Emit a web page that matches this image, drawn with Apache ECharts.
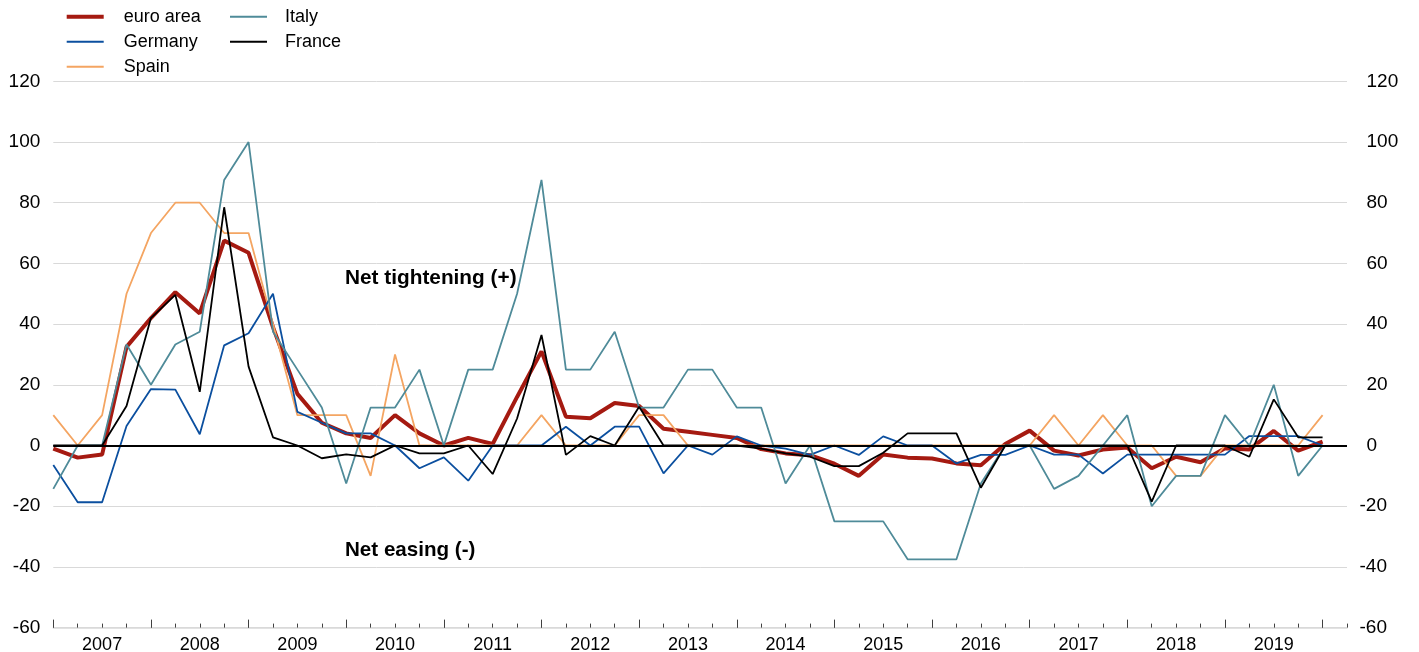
<!DOCTYPE html>
<html>
<head>
<meta charset="utf-8">
<script src="https://cdn.jsdelivr.net/npm/echarts@6/dist/echarts.min.js"></script>
<style>
  html, body { margin: 0; padding: 0; background: #ffffff; }
  #chart { width: 1419px; height: 652px; }
</style>
</head>
<body>
<div id="chart"></div>
<script>
// Quarterly periods 2007Q1 .. 2020Q1 carry data; the axis runs one quarter further.
const years = [2007, 2008, 2009, 2010, 2011, 2012, 2013, 2014, 2015, 2016, 2017, 2018, 2019, 2020];
const quarterNames = ['Q1', 'Q2', 'Q3', 'Q4'];

// Net percentages of banks (tightening > 0, easing < 0)
const euroArea = [-1, -4, -3, 32.5, 42, 50.5, 43.5, 67.5, 63.5, 39, 17, 7.5, 4, 2.5,
  10, 4, 0, 2.5, 0.5, 16, 31, 9.5, 9, 14, 13, 5.5, 4.5,
  3.5, 2.5, -1.2, -2.6, -3.2, -6, -10, -3, -4, -4.3, -5.9, -6.5, 0.5,
  4.9, -1.7, -3.3, -1.3, -0.7, -7.5, -3.7, -5.5, -0.9, -1.3, 4.8, -1.7, 1.3];
const germany = [-6.4, -18.7, -18.7, 6.4, 18.6, 18.4, 3.7, 33, 37, 50, 11.1, 7.5, 4, 4,
  0, -7.5, -3.9, -11.6, 0, 0, 0, 6.2, 0, 6.2, 6.2, -9.2, 0,
  -3, 3, 0, -1, -3.1, 0, -3.1, 3, 0, 0, -5.9, -3.1, -3.1,
  0, -3, -3, -9.2, -3, -3, -3, -3, -3, 3.1, 3.1, 3.1, 0];
const spain = [10, 0, 10, 50, 70, 80, 80, 70, 70, 40, 10, 10, 10, -10,
  30, 0, 0, 0, 0, 0, 10, 0, 0, 0, 10, 10, 0,
  0, 0, 0, 0, 0, 0, 0, 0, 0, 0, 0, 0, 0,
  0, 10, 0, 10, 0, 0, -10, -10, 0, 0, 0, 0, 10];
const italy = [-14.3, 0, 0, 33.3, 20, 33.3, 37.5, 87.5, 100, 37.5, 25, 12.5, -12.5, 12.5,
  12.5, 25, 0, 25, 25, 50, 87.5, 25, 25, 37.5, 12.5, 12.5, 25,
  25, 12.5, 12.5, -12.5, 0, -25, -25, -25, -37.5, -37.5, -37.5, -12.5, 0,
  0, -14.3, -10, 0, 10, -20, -10, -10, 10, 0, 20, -10, 0];
const france = [0, 0, 0, 13, 42, 49.6, 17.7, 78.5, 26, 2.7, 0, -4.2, -2.9, -3.9,
  0, -2.6, -2.6, 0, -9.4, 8.9, 36.4, -3.1, 3.1, 0, 12.8, 0, 0,
  0, 0, -1, -2.6, -3.7, -6.8, -6.8, -2.4, 4, 4, 4, -13.9, 0,
  0, 0, 0, 0, 0, -18.5, 0, 0, 0, -3.7, 15.2, 2.7, 2.7];

// Value axis ticks
const yMin = -60, yMax = 120, yStep = 20;

const quarters = [];
years.forEach(y => quarterNames.forEach(q => quarters.push(y + q)));
quarters.length = euroArea.length + 1; // one empty quarter closes the axis

const FONT = '"Liberation Sans", Arial, Helvetica, sans-serif';
const colors = {
  euro: '#a51a11',
  germany: '#0b4f9f',
  spain: '#f4a562',
  italy: '#4f8b99',
  france: '#000000'
};

function legendFor(name, left, top, h, gap) {
  return {
    data: [name],
    left: left,
    top: top,
    padding: 0,
    icon: 'rect',
    itemWidth: 37,
    itemHeight: h,
    itemStyle: { borderWidth: 0 },
    selectedMode: false,
    textStyle: { fontFamily: FONT, fontSize: 18, color: '#000', lineHeight: 20, padding: [0, 0, 0, gap] }
  };
}

function lineSeries(name, data, color, width) {
  return {
    name: name,
    type: 'line',
    data: data,
    xAxisIndex: 0,
    yAxisIndex: 0,
    symbol: 'none',
    showSymbol: false,
    color: color,
    lineStyle: { color: color, width: width },
    emphasis: { disabled: true },
    z: 2
  };
}

const chart = echarts.init(document.getElementById('chart'), null, { renderer: 'canvas' });

const france$ = lineSeries('France', france, colors.france, 1.8);
france$.markLine = {
  silent: true,
  symbol: 'none',
  label: { show: false },
  lineStyle: { color: '#000', width: 1.8, type: 'solid' },
  emphasis: { disabled: true },
  data: [{ yAxis: 0 }]
};

chart.setOption({
  animation: false,
  backgroundColor: '#ffffff',
  textStyle: { fontFamily: FONT },
  grid: {
    left: 53.3, right: 72, top: 81.3, bottom: 24.4,
    containLabel: false,
    outerBoundsMode: 'none'
  },
  legend: [
    legendFor('euro area', 66.7, 6.7, 4, 15),
    legendFor('Germany', 66.7, 31.7, 2, 15),
    legendFor('Spain', 66.7, 56.7, 2, 15),
    legendFor('Italy', 230, 6.7, 2, 13),
    legendFor('France', 230, 31.7, 2, 13)
  ],
  xAxis: [
    {
      type: 'category',
      data: quarters,
      boundaryGap: false,
      position: 'bottom',
      axisLine: { show: true, onZero: false, lineStyle: { color: '#d9d9d9', width: 1.5 } },
      axisTick: { show: true, inside: true, length: 4, interval: 0, lineStyle: { color: '#404040', width: 1 } },
      axisLabel: {
        show: true,
        interval: (i) => i % 4 === 2,
        formatter: (v) => v.slice(0, 4),
        fontFamily: FONT, fontSize: 18, color: '#000', margin: 8
      },
      splitLine: { show: false }
    },
    {
      type: 'category',
      data: quarters,
      boundaryGap: false,
      position: 'bottom',
      axisLine: { show: false, onZero: false },
      axisTick: { show: true, inside: true, length: 8, interval: (i) => i % 4 === 0, lineStyle: { color: '#404040', width: 1 } },
      axisLabel: { show: false },
      splitLine: { show: false }
    }
  ],
  yAxis: [
    {
      type: 'value', position: 'left', min: yMin, max: yMax, interval: yStep,
      axisLine: { show: false }, axisTick: { show: false },
      splitLine: { show: true, lineStyle: { color: '#d9d9d9', width: 1 } },
      axisLabel: { fontFamily: FONT, fontSize: 19, color: '#000', margin: 13 }
    },
    {
      type: 'value', position: 'right', min: yMin, max: yMax, interval: yStep,
      axisLine: { show: false }, axisTick: { show: false }, splitLine: { show: false },
      axisLabel: {
        fontFamily: FONT, fontSize: 19, color: '#000', margin: 19.5, align: 'left',
        formatter: (v) => (v >= 0 ? String(v) : '')
      }
    },
    {
      type: 'value', position: 'right', min: yMin, max: yMax, interval: yStep,
      axisLine: { show: false }, axisTick: { show: false }, splitLine: { show: false },
      axisLabel: {
        fontFamily: FONT, fontSize: 19, color: '#000', margin: 12.5, align: 'left',
        formatter: (v) => (v < 0 ? String(v) : '')
      }
    }
  ],
  graphic: [
    {
      type: 'text', x: 345, y: 278, silent: true,
      style: { text: 'Net tightening (+)', font: 'bold 20.8px ' + FONT, fill: '#000', align: 'left', verticalAlign: 'middle' }
    },
    {
      type: 'text', x: 345, y: 550.7, silent: true,
      style: { text: 'Net easing (-)', font: 'bold 20.6px ' + FONT, fill: '#000', align: 'left', verticalAlign: 'middle' }
    }
  ],
  series: [
    lineSeries('euro area', euroArea, colors.euro, 4),
    lineSeries('Spain', spain, colors.spain, 1.8),
    lineSeries('Germany', germany, colors.germany, 1.8),
    lineSeries('Italy', italy, colors.italy, 1.8),
    france$
  ]
});
</script>
</body>
</html>
